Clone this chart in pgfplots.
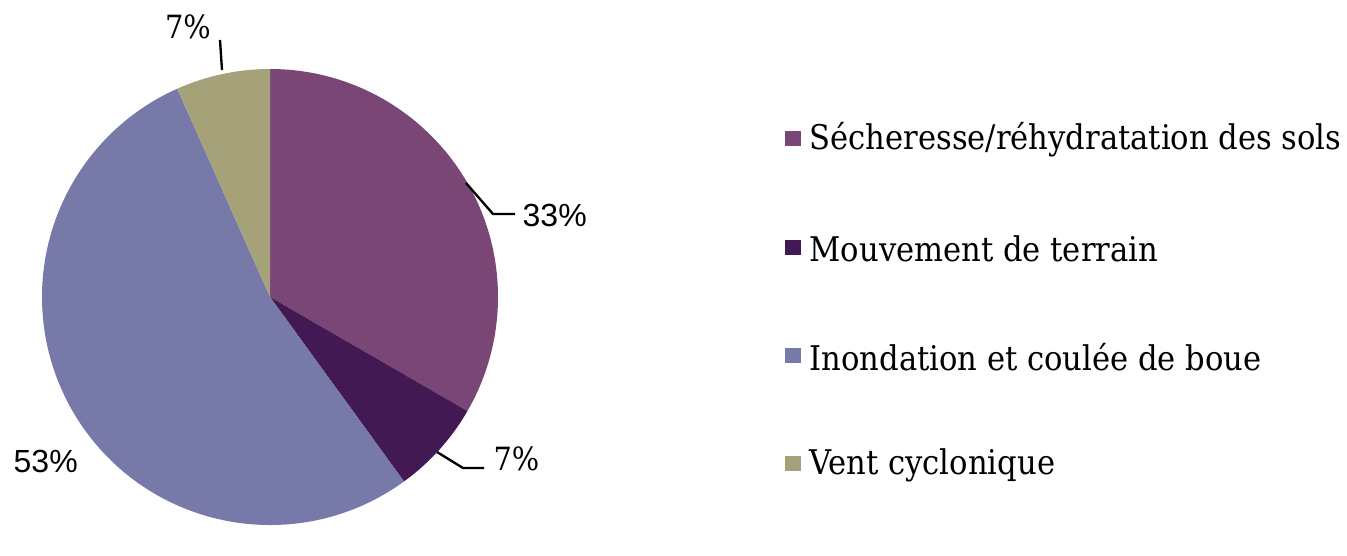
\documentclass[border=0pt]{standalone}
\usepackage{fontspec}
\setmainfont{DejaVu Serif Condensed}
\newfontfamily\sansf{Liberation Sans}
\usepackage{pgfplots}
\usepackage{pgfplotstable}
\pgfplotsset{compat=1.18}

\definecolor{cS}{RGB}{122,70,118}
\definecolor{cM}{RGB}{66,25,82}
\definecolor{cI}{RGB}{119,121,168}
\definecolor{cV}{RGB}{165,162,122}

% share of each cause (out of 15 events)
\pgfplotstableread{
cause value
Secheresse 5
Mouvement 1
Inondation 8
Vent 1
}\piedata

\pgfplotstablegetelem{0}{value}\of\piedata \let\vA\pgfplotsretval
\pgfplotstablegetelem{1}{value}\of\piedata \let\vB\pgfplotsretval
\pgfplotstablegetelem{2}{value}\of\piedata \let\vC\pgfplotsretval
\pgfplotstablegetelem{3}{value}\of\piedata \let\vD\pgfplotsretval
\pgfmathsetmacro\total{\vA+\vB+\vC+\vD}
\pgfmathsetmacro\aA{90}
\pgfmathsetmacro\aB{\aA-360*\vA/\total}
\pgfmathsetmacro\aC{\aB-360*\vB/\total}
\pgfmathsetmacro\aD{\aC-360*\vC/\total}
\pgfmathsetmacro\aE{\aD-360*\vD/\total}
\def\R{68.4pt}

\begin{document}
\begin{tikzpicture}
\begin{axis}[
  width=404.1pt, height=158.1pt, scale only axis,
  xmin=0, xmax=1347, ymin=0, ymax=527,
  hide axis, clip=false,
]
  % keep the full canvas in the bounding box
  \path (axis cs:0,0) rectangle (axis cs:1347,527);

  \fill[cS] (axis cs:270,230) -- ++(\aA:\R) arc[start angle=\aA, end angle=\aB, radius=\R] -- cycle;
  \fill[cM] (axis cs:270,230) -- ++(\aB:\R) arc[start angle=\aB, end angle=\aC, radius=\R] -- cycle;
  \fill[cI] (axis cs:270,230) -- ++(\aC:\R) arc[start angle=\aC, end angle=\aD, radius=\R] -- cycle;
  \fill[cV] (axis cs:270,230) -- ++(\aD:\R) arc[start angle=\aD, end angle=\aE, radius=\R] -- cycle;

  % data labels
  \draw[line width=0.7pt] (axis cs:466,344) -- (axis cs:493,313) -- (axis cs:515,313);
  \node[anchor=west, font=\sansf\fontsize{9.6}{11}\selectfont, inner sep=0pt] at (axis cs:522,312) {33\%};
  \draw[line width=0.7pt] (axis cs:437,75) -- (axis cs:463,59) -- (axis cs:484,59);
  \node[anchor=west, font=\fontsize{9.6}{11}\selectfont, inner sep=0pt] at (axis cs:493,68) {7\%};
  \draw[line width=0.7pt] (axis cs:220,487) -- (axis cs:222,457);
  \node[anchor=center, font=\fontsize{9.6}{11}\selectfont, inner sep=0pt] at (axis cs:188,500) {7\%};
  \node[anchor=west, font=\sansf\fontsize{9.6}{11}\selectfont, inner sep=0pt] at (axis cs:13,66) {53\%};

  % legend
  \fill[cS] (axis cs:785,381) rectangle (axis cs:801,396);
  \fill[cM] (axis cs:785,272) rectangle (axis cs:801,287);
  \fill[cI] (axis cs:785,164) rectangle (axis cs:801,179);
  \fill[cV] (axis cs:785,56) rectangle (axis cs:801,71);
  \begin{scope}[every node/.style={anchor=west, inner sep=0pt, font=\fontsize{10.2}{12}\selectfont}]
    \node at (axis cs:809,387) {Sécheresse/réhydratation des sols};
    \node at (axis cs:809,278) {Mouvement de terrain};
    \node at (axis cs:809,170) {Inondation et coulée de boue};
    \node at (axis cs:809,62) {Vent cyclonique};
  \end{scope}
\end{axis}
\end{tikzpicture}
\end{document}
